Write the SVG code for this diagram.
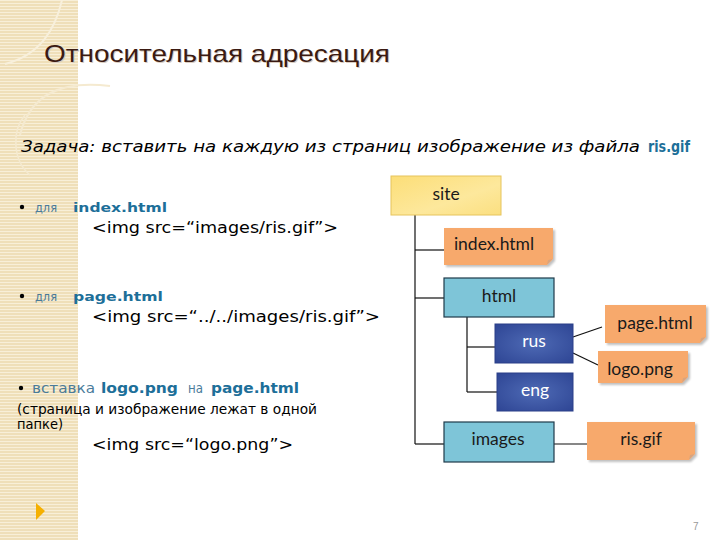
<svg xmlns="http://www.w3.org/2000/svg" width="720" height="540" viewBox="0 0 720 540">
<defs>
<pattern id="stripes" width="4" height="3" patternUnits="userSpaceOnUse">
<rect width="4" height="3" fill="#efdfb9"/>
<rect width="4" height="1" fill="#f8efd8"/>
</pattern>
<linearGradient id="gYellow" x1="0" y1="0" x2="1" y2="1">
<stop offset="0" stop-color="#fcde78"/>
<stop offset="0.6" stop-color="#fde89c"/>
<stop offset="1" stop-color="#fbdf80"/>
</linearGradient>
<radialGradient id="gDark" cx="0.5" cy="0.5" r="0.7">
<stop offset="0" stop-color="#4e6ab5"/>
<stop offset="1" stop-color="#2e4594"/>
</radialGradient>
<filter id="sh" x="-5%" y="-5%" width="115%" height="130%">
<feGaussianBlur in="SourceAlpha" stdDeviation="1.2"/>
<feOffset dx="1.5" dy="1.5" result="b"/>
<feComponentTransfer><feFuncA type="linear" slope="0.25"/></feComponentTransfer>
<feMerge><feMergeNode/><feMergeNode in="SourceGraphic"/></feMerge>
</filter>
</defs>
<style>
.node text{font-family:Lato,"Open Sans","DejaVu Sans",sans-serif;font-size:17.5px;text-anchor:middle}
.note{fill:#f7a96c}
.fold{fill:#d9a47e}
.lb{fill:#7ec5d8;stroke:#1f3a4a;stroke-width:1.2}
.db{fill:url(#gDark);stroke:#2a3f88;stroke-width:1}
.conn line,.conn polyline{stroke:#111;stroke-width:1.2;fill:none}
.body{font-family:"DejaVu Sans",Verdana,sans-serif;fill:#000}
.kw{font-family:"DejaVu Sans",Verdana,sans-serif;font-weight:bold;fill:#1d6f99}
.sm{font-family:"DejaVu Sans",Verdana,sans-serif;fill:#4a7b9a}
</style>
<rect width="720" height="540" fill="#ffffff"/>
<g id="sidebar">
<rect x="0" y="0" width="78" height="540" fill="url(#stripes)"/>
<path d="M62 0 C55 30 40 55 5 64" fill="none" stroke="#f8f0dc" stroke-width="2"/>
<path d="M20 135 C30 95 60 80 110 86" fill="none" stroke="#f5ead0" stroke-width="2"/>
<path d="M30 175 C12 160 12 130 25 115" fill="none" stroke="#f5ead0" stroke-width="1.5"/>
<path d="M36 503 L45 511 L36 520 Z" fill="#f5b000"/>
</g>
<g id="title">
<text x="45" y="63" font-family="Liberation Sans,Arial,sans-serif" font-size="24" fill="#d8ccc0" textLength="346" lengthAdjust="spacingAndGlyphs">Относительная адресация</text>
<text x="44" y="62" font-family="Liberation Sans,Arial,sans-serif" font-size="24" fill="#3b1a12" textLength="346" lengthAdjust="spacingAndGlyphs">Относительная адресация</text>
</g>
<g id="task">
<text x="21" y="152" font-family="DejaVu Sans Condensed,DejaVu Sans,sans-serif" font-style="italic" font-size="16" fill="#000" textLength="619" lengthAdjust="spacingAndGlyphs">Задача: вставить на каждую из страниц изображение из файла</text>
<text x="648" y="152" font-family="DejaVu Sans,sans-serif" font-weight="bold" font-size="16" fill="#1d6f99" textLength="42" lengthAdjust="spacingAndGlyphs">ris.gif</text>
</g>
<g id="left-text">
<circle cx="22" cy="207" r="2.2" fill="#000"/>
<text x="35" y="212" class="sm" font-size="13" textLength="22" lengthAdjust="spacingAndGlyphs">для</text>
<text x="73" y="212" class="kw" font-size="13" textLength="94" lengthAdjust="spacingAndGlyphs">index.html</text>
<text x="92" y="233" class="body" font-size="16" textLength="246" lengthAdjust="spacingAndGlyphs">&lt;img src=“images/ris.gif”&gt;</text>
<circle cx="22" cy="296" r="2.2" fill="#000"/>
<text x="35" y="301" class="sm" font-size="13" textLength="22" lengthAdjust="spacingAndGlyphs">для</text>
<text x="73" y="301" class="kw" font-size="13" textLength="90" lengthAdjust="spacingAndGlyphs">page.html</text>
<text x="92" y="322" class="body" font-size="16" textLength="288" lengthAdjust="spacingAndGlyphs">&lt;img src=“../../images/ris.gif”&gt;</text>
<circle cx="21" cy="388" r="2.2" fill="#000"/>
<text x="32" y="393" class="sm" font-size="14" textLength="63" lengthAdjust="spacingAndGlyphs">вставка</text>
<text x="101" y="393" class="kw" font-size="14" textLength="77" lengthAdjust="spacingAndGlyphs">logo.png</text>
<text x="188" y="393" class="sm" font-size="14" textLength="15" lengthAdjust="spacingAndGlyphs">на</text>
<text x="211" y="393" class="kw" font-size="14" textLength="88" lengthAdjust="spacingAndGlyphs">page.html</text>
<text x="17" y="414" class="body" font-size="13.5" textLength="300" lengthAdjust="spacingAndGlyphs">(страница и изображение лежат в одной</text>
<text x="17" y="429" class="body" font-size="13.5" textLength="46" lengthAdjust="spacingAndGlyphs">папке)</text>
<text x="92" y="450" class="body" font-size="16" textLength="201" lengthAdjust="spacingAndGlyphs">&lt;img src=“logo.png”&gt;</text>
</g>
<g class="conn" id="connectors">
<line x1="415" y1="215" x2="415" y2="444"/>
<line x1="415" y1="250" x2="444" y2="250"/>
<line x1="415" y1="298" x2="444" y2="298"/>
<line x1="415" y1="444" x2="444" y2="444"/>
<line x1="467" y1="317" x2="467" y2="392"/>
<line x1="467" y1="347" x2="495" y2="347"/>
<line x1="467" y1="392" x2="497" y2="392"/>
<line x1="573" y1="337" x2="602" y2="327"/>
<line x1="573" y1="353" x2="598" y2="365"/>
<line x1="554" y1="444" x2="587" y2="444"/>
</g>
<g class="node" id="site">
<rect x="391" y="176" width="110" height="39" fill="url(#gYellow)" stroke="#e6c45c" stroke-width="1"/>
<text x="446" y="200" fill="#1a1a1a">site</text>
</g>
<g class="node" id="index-html">
<path class="note" d="M444 228 H553 V259 L547 265 H444 Z" filter="url(#sh)"/>
<path class="fold" d="M553 259 L547 265 L548 260 Z"/>
<text x="494" y="250" fill="#1a1a1a">index.html</text>
</g>
<g class="node" id="html">
<rect class="lb" x="444" y="278" width="110" height="39"/>
<text x="499" y="302" fill="#1a1a1a">html</text>
</g>
<g class="node" id="page-html">
<path class="note" d="M605 305 H706 V337 L700 343 H605 Z" filter="url(#sh)"/>
<path class="fold" d="M706 337 L700 343 L701 338 Z"/>
<text x="655" y="329" fill="#1a1a1a">page.html</text>
</g>
<g class="node" id="rus">
<rect class="db" x="495" y="324" width="78" height="39"/>
<text x="534" y="347" fill="#ffffff">rus</text>
</g>
<g class="node" id="logo-png">
<path class="note" d="M598 351 H688 V377 L682 383 H598 Z" filter="url(#sh)"/>
<path class="fold" d="M688 377 L682 383 L683 378 Z"/>
<text x="640" y="375" fill="#1a1a1a">logo.png</text>
</g>
<g class="node" id="eng">
<rect class="db" x="497" y="373" width="76" height="38"/>
<text x="535" y="396" fill="#ffffff">eng</text>
</g>
<g class="node" id="images">
<rect class="lb" x="444" y="422" width="110" height="40"/>
<text x="498" y="445" fill="#1a1a1a">images</text>
</g>
<g class="node" id="ris-gif">
<path class="note" d="M587 422 H695 V454 L689 460 H587 Z" filter="url(#sh)"/>
<path class="fold" d="M695 454 L689 460 L690 455 Z"/>
<text x="641" y="445" fill="#1a1a1a">ris.gif</text>
</g>
<text x="693" y="530" font-family="Liberation Sans,sans-serif" font-size="10" fill="#999">7</text>
</svg>
